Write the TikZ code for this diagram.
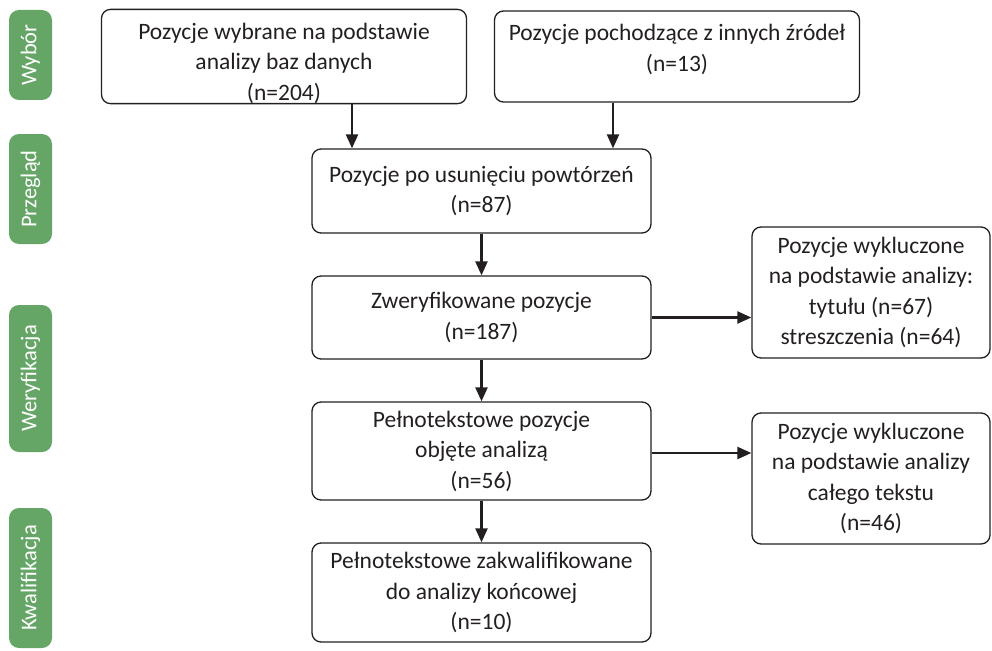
\documentclass[tikz,border=0pt]{standalone}
\usepackage{fontspec}
\setmainfont{Carlito}
\usepackage{xcolor}
\usetikzlibrary{arrows.meta, positioning}
\definecolor{stagegreen}{RGB}{101,166,102}
\definecolor{inkgray}{RGB}{35,31,32}

\begin{document}
\begin{tikzpicture}[x=1pt, y=-1pt,
  every node/.style={font=\fontsize{23.5}{30.5}\selectfont, text=inkgray},
  stage/.style={rotate=90, fill=stagegreen, rounded corners=10pt, inner sep=0pt,
    minimum height=43pt, text=white, font=\fontsize{22.5}{26}\selectfont},
  flowbox/.style={draw=inkgray, line width=1.3pt, rounded corners=9pt, inner sep=0pt,
    align=center},
  arr/.style={-{Triangle[length=14pt, width=12pt]}, line width=2.3pt, draw=inkgray}]
\useasboundingbox (0,0) rectangle (992,650);
% Stage labels on the left
\node[stage, minimum width=90pt]  (wybor)  at (30.5, 55)  {Wybór};
\node[stage, minimum width=110pt] (przegl) at (30.5, 189) {Przegląd};
\node[stage, minimum width=147pt] (weryf)  at (30.5, 378.5) {Weryfikacja};
\node[stage, minimum width=140pt] (kwalif) at (30.5, 578) {Kwalifikacja};
% Sources (text sits low in these two)
\node[flowbox, minimum width=365pt, minimum height=87pt] (selDb) at (284, 56.5)
  {\rule{0pt}{30pt}Pozycje wybrane na podstawie\\analizy baz danych\\(n=204)};
\node[flowbox, minimum width=365pt, minimum height=87pt] (selOther) at (677, 56.5)
  {\rule{0pt}{30pt}Pozycje pochodzące z innych źródeł\\(n=13)\\\mbox{}};
% Main column
\node[flowbox, minimum width=339pt, minimum height=84pt] (dedup) at (481.5, 191)
  {Pozycje po usunięciu powtórzeń\\(n=87)};
\node[flowbox, minimum width=339pt, minimum height=83pt] (screened) at (481.5, 317.5)
  {Zweryfikowane pozycje\\(n=187)};
\node[flowbox, minimum width=339pt, minimum height=98pt] (fulltext) at (481.5, 451)
  {Pełnotekstowe pozycje\\objęte analizą\\(n=56)};
\node[flowbox, minimum width=339pt, minimum height=99pt] (final) at (481.5, 592.5)
  {Pełnotekstowe zakwalifikowane\\do analizy końcowej\\(n=10)};
% Exclusions on the right
\node[flowbox, minimum width=238pt, minimum height=131pt] (exclTitle) at (871, 292.5)
  {Pozycje wykluczone\\na podstawie analizy:\\tytułu (n=67)\\streszczenia (n=64)};
\node[flowbox, minimum width=238pt, minimum height=131pt] (exclFull) at (871, 478.5)
  {Pozycje wykluczone\\na podstawie analizy\\całego tekstu\\(n=46)};
% Connectors
\draw[arr] ([xshift=68pt]selDb.south) -- ([xshift=68pt]selDb.south |- dedup.north);
\draw[arr] ([xshift=-64pt]selOther.south) -- ([xshift=-64pt]selOther.south |- dedup.north);
\draw[arr] (dedup) -- (screened);
\draw[arr] (screened) -- (fulltext);
\draw[arr] (fulltext) -- (final);
\draw[arr] (screened.east) -- (screened.east -| exclTitle.west);
\draw[arr] ([yshift=-2pt]fulltext.east) -- ([yshift=-2pt]fulltext.east -| exclFull.west);
\end{tikzpicture}
\end{document}
